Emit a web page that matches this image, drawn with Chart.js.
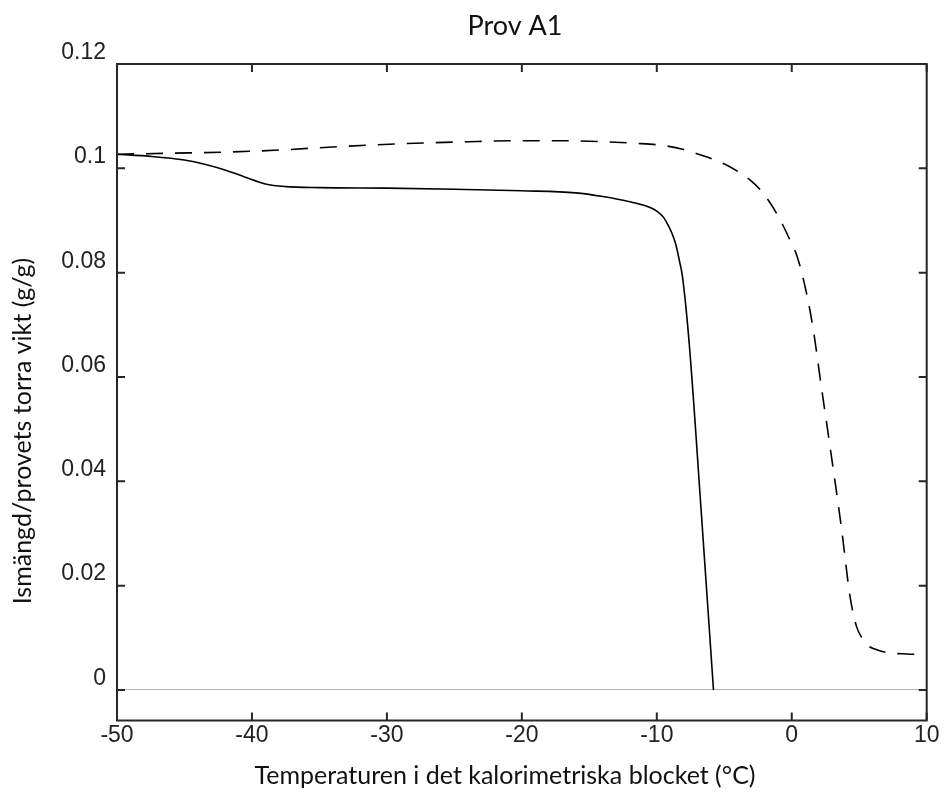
<!DOCTYPE html>
<html>
<head>
<meta charset="utf-8">
<script src="https://cdn.jsdelivr.net/npm/chart.js@4.4.1/dist/chart.umd.min.js"></script>
<style>
  html, body { margin: 0; padding: 0; background: #ffffff; }
  #wrap { width: 944px; height: 796px; }
</style>
</head>
<body>
<div id="wrap"><canvas id="chart" width="944" height="796"></canvas></div>
<script>
// Text
const chartTitle = 'Prov A1';
const xAxisTitle = 'Temperaturen i det kalorimetriska blocket (°C)';
const yAxisTitle = 'Ismängd/provets torra vikt (g/g)';

// Tick values
const xTicks = [-50, -40, -30, -20, -10, 0, 10];
const yTicks = [0, 0.02, 0.04, 0.06, 0.08, 0.1, 0.12];

// Solid curve: temperature (°C) and ice amount (g/g)
const solidTemp = [-50, -47.5, -45, -43.5, -42, -40.5, -39, -37.5, -35, -30, -25, -20, -16, -14, -12, -10.5, -10, -9.5, -9.2, -8.9, -8.6, -8.3, -8.1, -7.6, -6.7, -5.8];
const solidIce  = [0.1027, 0.1023, 0.1016, 0.1008, 0.0997, 0.0983, 0.0970, 0.0965, 0.0963, 0.0962, 0.0960, 0.0957, 0.0953, 0.0946, 0.0936, 0.0925, 0.0918, 0.0906, 0.0893, 0.0877, 0.0855, 0.0820, 0.0793, 0.0665, 0.0339, 0];

// Dashed curve: temperature (°C) and ice amount (g/g)
const dashedTemp = [-50, -46, -42, -38, -34, -29, -24, -20, -17, -14, -11.5, -9.3, -8, -6.8, -5.8, -4.8, -4, -3.1, -2.4, -1.85, -1.2, -0.6, 0, 0.4, 1.1, 1.6, 2.2, 2.84, 3.7, 4.32, 4.81, 5.2, 5.6, 6.2, 7, 8.5, 10];
const dashedIce  = [0.1027, 0.1029, 0.1031, 0.1035, 0.1041, 0.1047, 0.1051, 0.1053, 0.1053, 0.1051, 0.1048, 0.1043, 0.1036, 0.1026, 0.1017, 0.1006, 0.0994, 0.0978, 0.0961, 0.0943, 0.0917, 0.0888, 0.0855, 0.0831, 0.0760, 0.0690, 0.0580, 0.0466, 0.0307, 0.0179, 0.0121, 0.0100, 0.0086, 0.0078, 0.0072, 0.0069, 0.0068];

const toPoints = (xs, ys) => xs.map((t, i) => ({ x: t, y: ys[i] }));

const FRAME = '#262626';
const TICK_FONT = { family: '"Liberation Sans", Arial, sans-serif', size: 23 };
const LABEL_FONT = '"Lato", "Open Sans", sans-serif';

// Box, inward tick marks and titles
const framePlugin = {
  id: 'frameAndTitles',
  afterDatasetsDraw(chart) {
    const { ctx, chartArea: a, scales: { x, y } } = chart;
    ctx.save();
    ctx.strokeStyle = FRAME;
    ctx.lineWidth = 2;
    ctx.strokeRect(a.left, a.top, a.right - a.left, a.bottom - a.top);
    const len = 8;
    ctx.beginPath();
    xTicks.forEach(v => {
      const px = x.getPixelForValue(v);
      ctx.moveTo(px, a.bottom); ctx.lineTo(px, a.bottom - len);
      ctx.moveTo(px, a.top); ctx.lineTo(px, a.top + len);
    });
    yTicks.forEach(v => {
      const py = y.getPixelForValue(v);
      ctx.moveTo(a.left, py); ctx.lineTo(a.left + len, py);
      ctx.moveTo(a.right, py); ctx.lineTo(a.right - len, py);
    });
    ctx.stroke();

    ctx.fillStyle = '#111111';
    ctx.textBaseline = 'alphabetic';
    ctx.textAlign = 'center';
    // chart title
    ctx.font = '27px ' + LABEL_FONT;
    ctx.fillText(chartTitle, 515, 35);
    // x axis title
    ctx.font = '25px ' + LABEL_FONT;
    ctx.fillText(xAxisTitle, 505, 784);
    // y axis title
    ctx.translate(31, 431);
    ctx.rotate(-Math.PI / 2);
    ctx.fillText(yAxisTitle, 0, 0);
    ctx.restore();
  }
};

new Chart(document.getElementById('chart'), {
  type: 'line',
  data: {
    datasets: [
      {
        label: 'solid',
        data: toPoints(solidTemp, solidIce),
        borderColor: '#000000',
        borderWidth: 1.6,
        pointRadius: 0,
        cubicInterpolationMode: 'monotone',
        fill: false
      },
      {
        label: 'dashed',
        data: toPoints(dashedTemp, dashedIce),
        borderColor: '#000000',
        borderWidth: 1.6,
        borderDash: [17, 12],
        pointRadius: 0,
        cubicInterpolationMode: 'monotone',
        fill: false
      }
    ]
  },
  options: {
    responsive: false,
    animation: false,
    devicePixelRatio: 1,
    layout: { padding: { top: 64, right: 17.3, left: 0, bottom: 0 } },
    plugins: {
      legend: { display: false },
      title: { display: false },
      tooltip: { enabled: false }
    },
    scales: {
      x: {
        type: 'linear',
        min: -50,
        max: 10,
        afterBuildTicks: s => { s.ticks = xTicks.map(v => ({ value: v })); },
        afterFit: s => { s.height = 75.5; },
        ticks: {
          font: TICK_FONT,
          color: '#222222',
          padding: 1,
          maxRotation: 0,
          callback: v => String(v)
        },
        grid: { display: false, drawTicks: false },
        border: { display: false }
      },
      y: {
        type: 'linear',
        min: -0.00585,
        max: 0.12,
        afterBuildTicks: s => { s.ticks = yTicks.map(v => ({ value: v })); },
        afterFit: s => { s.width = 117; },
        ticks: {
          font: TICK_FONT,
          color: '#222222',
          padding: 11,
          labelOffset: -11.5,
          callback: v => String(+Number(v).toFixed(2))
        },
        grid: {
          drawTicks: false,
          lineWidth: 1,
          color: c => (c.tick && c.tick.value === 0 ? '#b4b4b4' : 'rgba(0,0,0,0)')
        },
        border: { display: false }
      }
    }
  },
  plugins: [framePlugin]
});
</script>
</body>
</html>
